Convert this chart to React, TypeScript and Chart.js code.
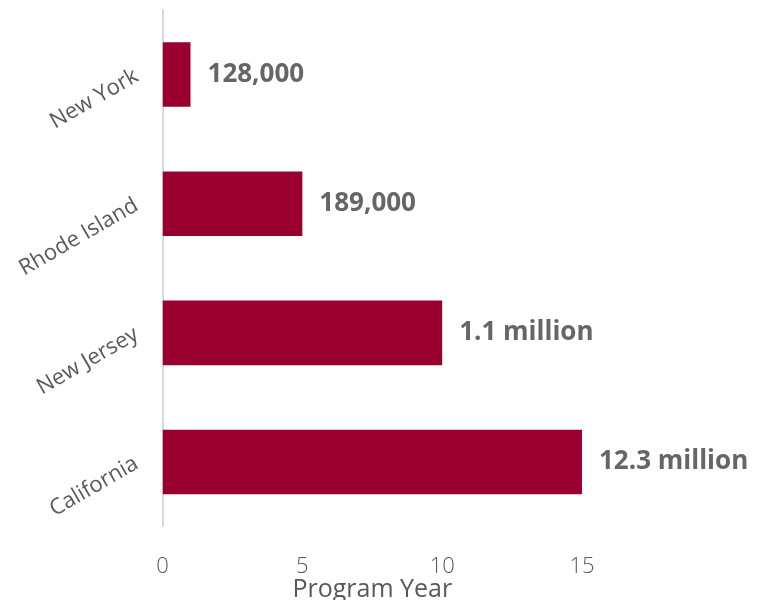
import React, { useEffect, useRef } from "react";
import { Chart, registerables } from "chart.js";

Chart.register(...registerables);

const categories = ["New York", "Rhode Island", "New Jersey", "California"];
const programYears = [1, 5, 10, 15];
const valueLabels = ["128,000", "189,000", "1.1 million", "12.3 million"];
const xTicks = [0, 5, 10, 15];

const FONT = "'Open Sans', 'Noto Sans', sans-serif";

const labelPlugin = {
  id: "barLabels",
  afterDatasetsDraw(chart: any) {
    const { ctx } = chart;
    const meta = chart.getDatasetMeta(0);
    ctx.save();
    ctx.font = `bold 26px ${FONT}`;
    ctx.fillStyle = "#666666";
    ctx.textAlign = "left";
    ctx.textBaseline = "middle";
    meta.data.forEach((bar: any, i: number) => {
      ctx.fillText(valueLabels[i], bar.x + 17, bar.y);
    });
    ctx.restore();
  },
};

export default function App() {
  const ref = useRef<HTMLCanvasElement>(null);
  useEffect(() => {
    document.body.style.margin = "0";
    const chart = new Chart(ref.current!, {
      type: "bar",
      data: {
        labels: categories,
        datasets: [
          {
            data: programYears,
            backgroundColor: "#990030",
            borderWidth: 0,
            barPercentage: 0.5,
            categoryPercentage: 1,
          },
        ],
      },
      options: {
        indexAxis: "y",
        animation: false,
        responsive: false,
        maintainAspectRatio: false,
        layout: { padding: { top: 10, right: 188, bottom: 0, left: -18 } },
        plugins: {
          legend: { display: false },
          tooltip: { enabled: false },
        },
        scales: {
          x: {
            min: 0,
            max: 15,
            afterBuildTicks: (scale: any) => {
              scale.ticks = xTicks.map((v) => ({ value: v }));
            },
            afterFit: (scale: any) => {
              scale.paddingLeft = 0;
              scale.paddingRight = 0;
            },
            grid: { display: false, drawTicks: false },
            border: { display: false },
            ticks: {
              color: "#595959",
              font: { family: FONT, size: 22, weight: "300" },
              padding: 27,
            },
            title: {
              display: true,
              text: "Program Year",
              color: "#595959",
              font: { family: FONT, size: 25, weight: "400" },
              padding: { top: -32, bottom: -5 },
            },
          },
          y: {
            afterFit: (scale: any) => {
              scale.paddingTop = 0;
              scale.paddingBottom = 0;
            },
            grid: { display: false, drawTicks: false },
            border: { display: true, color: "#d9d9d9", width: 2 },
            ticks: {
              color: "#595959",
              font: { family: FONT, size: 22, weight: "400" },
              minRotation: 30,
              maxRotation: 30,
              padding: 26,
            },
          },
        },
      },
      plugins: [labelPlugin],
    });
    return () => chart.destroy();
  }, []);
  return (
    <div style={{ width: 770, height: 600 }}>
      <canvas ref={ref} width={770} height={600} />
    </div>
  );
}
